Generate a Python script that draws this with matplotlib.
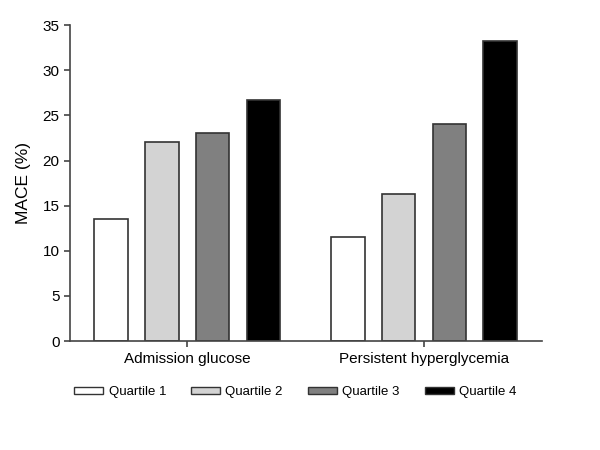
import numpy as np
from matplotlib import pyplot as plt
from matplotlib.patches import Patch

plt.rcParams['font.family'] = ['Liberation Sans', 'DejaVu Sans']

groups = ['Admission glucose', 'Persistent hyperglycemia']
quartiles = ['Quartile 1', 'Quartile 2', 'Quartile 3', 'Quartile 4']
mace = {
    'Quartile 1': [13.5, 11.5],
    'Quartile 2': [22.1, 16.3],
    'Quartile 3': [23.1, 24.0],
    'Quartile 4': [26.7, 33.3],
}
colors = ['white', '#d3d3d3', '#808080', 'black']

group_x = np.array([0, 4.67])
offsets = [-1.5, -0.5, 0.5, 1.5]
width = 0.66

fig = plt.figure(figsize=(6, 4.5), dpi=100)
ax = fig.add_axes([0.1167, 0.242, 0.787, 0.702])

for q, off, c in zip(quartiles, offsets, colors):
    ax.bar(group_x + off, mace[q], width=width, color=c, edgecolor='#333333', linewidth=1.2)

ax.set_xlim(-2.31, 7.0)
ax.set_ylim(0, 35)
ax.set_yticks(range(0, 36, 5))
ax.set_xticks(group_x)
ax.set_xticklabels(groups)
ax.set_ylabel('MACE (%)', fontsize=12.5, labelpad=8)
for s in ['top', 'right']:
    ax.spines[s].set_visible(False)
for s in ['left', 'bottom']:
    ax.spines[s].set_color('#444444')
    ax.spines[s].set_linewidth(1.2)
ax.tick_params(colors='#444444', labelcolor='black', labelsize=11, length=4, width=1.2)

handles = [Patch(facecolor=c, edgecolor='#333333', linewidth=1) for c in colors]
fig.legend(handles, quartiles, loc='center left', bbox_to_anchor=(0.115, 0.128), ncol=4,
           frameon=False, fontsize=9.5, handlelength=2.2, handleheight=0.5, handletextpad=0.4,
           columnspacing=1.9, borderaxespad=0)

fig.savefig('out.png', dpi=100)
